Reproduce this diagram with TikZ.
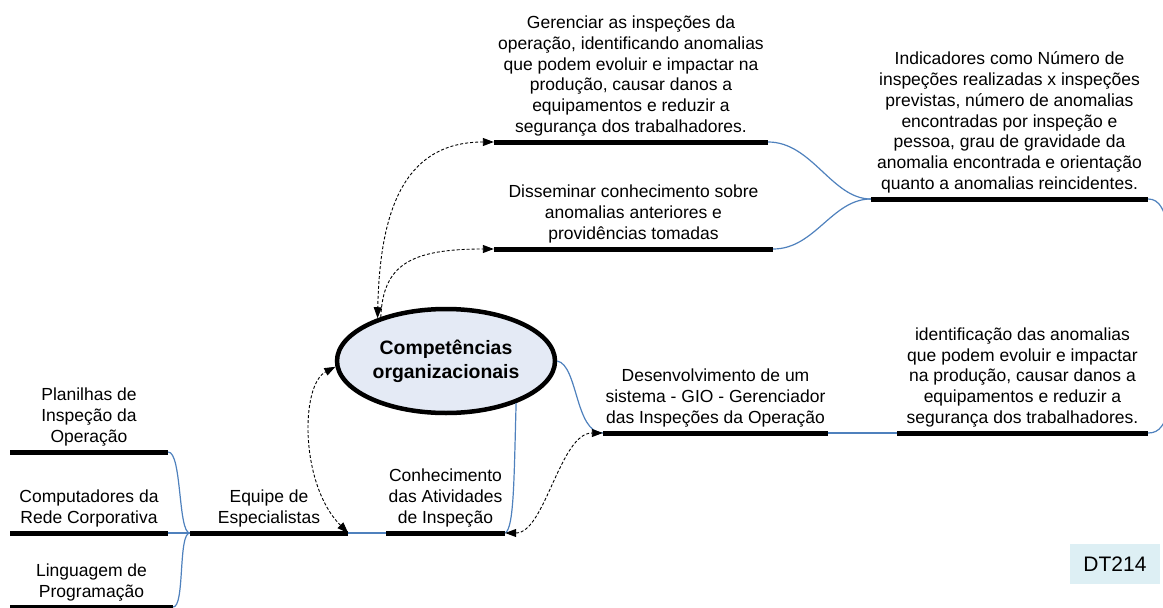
\documentclass[tikz,border=0pt]{standalone}
\usepackage{fontspec}
\setmainfont{Liberation Sans}
\usetikzlibrary{arrows.meta,shapes.geometric}
\definecolor{linkblue}{HTML}{4F81BD}
\definecolor{ellfill}{HTML}{E4EAF5}
\definecolor{tagfill}{HTML}{DDEFF4}
\newcommand{\lst}{\rule[-7pt]{0pt}{7pt}}
\tikzset{
  topicbar/.style={fill=black, draw=none, inner sep=0pt, minimum height=5pt},
  lbl/.style={font=\fontsize{17.5}{20.7}\selectfont, align=center, inner sep=0pt, anchor=south},
  link/.style={draw=linkblue, line width=1.2pt},
  dlink/.style={draw=black, line width=0.9pt, dash pattern=on 3pt off 2pt,
    {Triangle[length=11pt,width=8pt]}-{Triangle[length=11pt,width=8pt]}},
  slink/.style={draw=black, line width=0.9pt, dash pattern=on 3pt off 2pt,
    -{Triangle[length=11pt,width=8pt]}},
}
\begin{document}
\begin{tikzpicture}[x=1pt,y=-1pt]
\useasboundingbox (0,0) rectangle (1163,608);
\clip (0,0) rectangle (1163,608);

% central ellipse
\node[ellipse, draw=black, line width=4.5pt, fill=ellfill, minimum width=218pt, minimum height=104pt,
      inner sep=0pt, align=center, font=\bfseries\fontsize{19.4}{24}\selectfont] (comp) at (446,361)
  {Competências\\organizacionais};

% bars
\node[topicbar, minimum width=274pt] (gbar) at (631,142) {};
\node[topicbar, minimum width=279pt] (dbar) at (633.5,249) {};
\node[topicbar, minimum width=277pt] (ibar) at (1009.5,199) {};
\node[topicbar, minimum width=225pt] (dvbar) at (715.5,433) {};
\node[topicbar, minimum width=251pt] (idbar) at (1022.5,433) {};
\node[topicbar, minimum width=119pt] (kbar) at (445.5,533) {};
\node[topicbar, minimum width=158pt] (ebar) at (269,533) {};
\node[topicbar, minimum width=158pt] (pbar) at (89,452) {};
\node[topicbar, minimum width=158pt] (cbar) at (89,533) {};
\node[topicbar, minimum width=163pt] (lbar) at (91.5,607) {};

% labels
\node[lbl] (gtxt) at (gbar.north) {Gerenciar as inspeções da\\operação, identificando anomalias\\que podem evoluir e impactar na\\produção, causar danos a\\equipamentos e reduzir a\\segurança dos trabalhadores.\lst};
\node[lbl] (dtxt) at (dbar.north) {Disseminar conhecimento sobre\\anomalias anteriores e\\providências tomadas\lst};
\node[lbl] (itxt) at (ibar.north) {Indicadores como Número de\\inspeções realizadas x inspeções\\previstas, número de anomalias\\encontradas por inspeção e\\pessoa, grau de gravidade da\\anomalia encontrada e orientação\\quanto a anomalias reincidentes.\lst};
\node[lbl] (dvtxt) at (dvbar.north) {Desenvolvimento de um\\sistema - GIO - Gerenciador\\das Inspeções da Operação\lst};
\node[lbl] (idtxt) at (idbar.north) {identificação das anomalias\\que podem evoluir e impactar\\na produção, causar danos a\\equipamentos e reduzir a\\segurança dos trabalhadores.\lst};
\node[lbl] (ktxt) at (kbar.north) {Conhecimento\\das Atividades\\de Inspeção\lst};
\node[lbl] (etxt) at (ebar.north) {Equipe de\\Especialistas\lst};
\node[lbl] (ptxt) at (pbar.north) {Planilhas de\\Inspeção da\\Operação\lst};
\node[lbl] (ctxt) at (cbar.north) {Computadores da\\Rede Corporativa\lst};
\node[lbl] (ltxt) at (lbar.north) {Linguagem de\\Programação\lst};

% tag
\node[fill=tagfill, minimum width=90pt, minimum height=40pt, inner sep=0pt,
      font=\fontsize{21}{24}\selectfont] (tag) at (1115,564) {DT214};

% off-page ends
\coordinate (ioff) at (1172,240);
\coordinate (idoff) at (1172,400);

% blue links
\draw[link] (gbar.east) .. controls (812,142) and (832,199) .. (ibar.west);
\draw[link] (dbar.east) .. controls (815,249) and (832,199) .. (ibar.west);
\draw[link] (ibar.east) .. controls (1160,199) and (1165,210) .. (ioff);
\draw[link] (idbar.east) .. controls (1160,433) and (1165,425) .. (idoff);
\draw[link] (dvbar.east) -- (idbar.west);
\draw[link] (comp.east) .. controls (578,365) and (575,433) .. (dvbar.west);
\draw[link] (comp.-31) .. controls (514,480) and (514,528) .. (kbar.east);
\draw[link] (ebar.east) -- (kbar.west);
\draw[link] (pbar.east) .. controls (182,452) and (178,533) .. (ebar.west);
\draw[link] (cbar.east) -- (ebar.west);
\draw[link] (lbar.east) .. controls (185,607) and (178,533) .. (ebar.west);

% dashed arrows
\draw[dlink] (gbar.west) .. controls (410,142) and (380,200) .. (comp.148);
\draw[slink] (comp.146) .. controls (383,265) and (410,249) .. (dbar.west);
\draw[dlink] (ebar.east) .. controls (300,485) and (300,385) .. (comp.183);
\draw[dlink] (kbar.east) .. controls (545,533) and (560,433) .. (dvbar.west);
\end{tikzpicture}
\end{document}
